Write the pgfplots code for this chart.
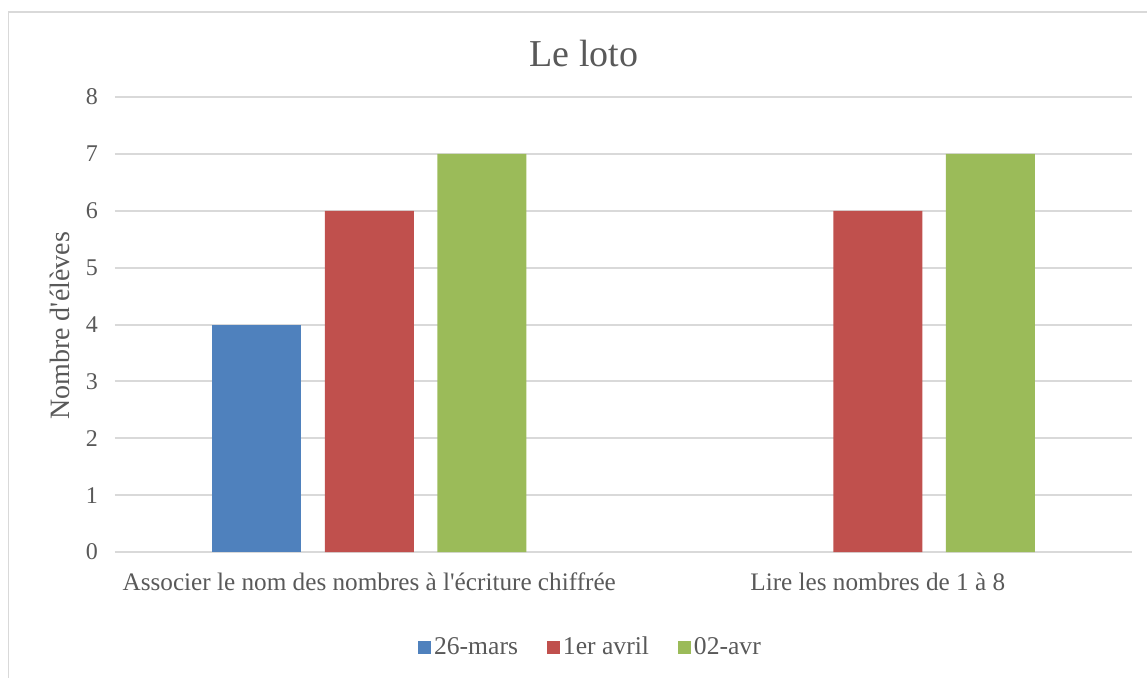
\documentclass[border=0pt]{standalone}
\usepackage{pgfplots}
\pgfplotsset{compat=1.18}
\usepackage{fontspec}
\setmainfont{Liberation Serif}
\definecolor{cblue}{HTML}{4F81BD}
\definecolor{cred}{HTML}{C0504D}
\definecolor{cgreen}{HTML}{9BBB59}
\definecolor{gridc}{HTML}{D9D9D9}
\definecolor{txt}{HTML}{595959}
\begin{document}
\begin{tikzpicture}
\path[use as bounding box] (0,0) rectangle (573.5pt,338.5pt);
\draw[gridc, line width=0.75pt] (4.25pt,-5pt) -- (4.25pt,332.5pt) -- (580pt,332.5pt);
\begin{axis}[
  at={(57.5pt,62.5pt)}, anchor=south west,
  scale only axis, width=508.5pt, height=227.5pt,
  ybar, bar width=44.5pt,
  xmin=-0.5, xmax=1.5, ymin=0, ymax=8,
  axis line style={draw=none},
  ymajorgrids, grid style={gridc, line width=1pt},
  major tick length=0pt, tick style={draw=none},
  xtick={0,1},
  xticklabels={Associer le nom des nombres à l\textquotesingle écriture chiffrée, Lire les nombres de 1 à 8},
  ytick={0,1,2,3,4,5,6,7,8},
  /pgf/number format/assume math mode=true,
  ticklabel style={font=\fontsize{12}{14}\selectfont, text=txt},
  yticklabel style={anchor=east, xshift=-5pt},
  xticklabel style={anchor=base, yshift=-19pt, font=\fontsize{12.6}{14}\selectfont},
  title={Le loto},
  title style={at={(axis description cs:0.461,1)}, anchor=base, yshift=9.5pt, font=\fontsize{19}{22}\selectfont, text=txt},
  ylabel={Nombre d\textquotesingle élèves},
  ylabel style={at={(axis description cs:-0.054,0.497)}, anchor=center, font=\fontsize{14}{16}\selectfont, text=txt},
  legend columns=3,
  legend style={at={(axis description cs:0.468,-0.209)}, anchor=center, draw=none, fill=none,
    font=\fontsize{12.8}{14}\selectfont, text=txt,
    /tikz/every even column/.append style={column sep=13pt},
    nodes={inner sep=1.5pt}},
  legend image code/.code={\fill[#1,draw=none] (0pt,-3.25pt) rectangle (6.5pt,3.25pt);},
]
\addplot[fill=cblue, draw=none, bar shift=-56.25pt] coordinates {(0,4)};
\addplot[fill=cred, draw=none, bar shift=0pt] coordinates {(0,6) (1,6)};
\addplot[fill=cgreen, draw=none, bar shift=56.25pt] coordinates {(0,7) (1,7)};
\legend{26-mars, 1er avril, 02-avr}
\end{axis}
\end{tikzpicture}
\end{document}
